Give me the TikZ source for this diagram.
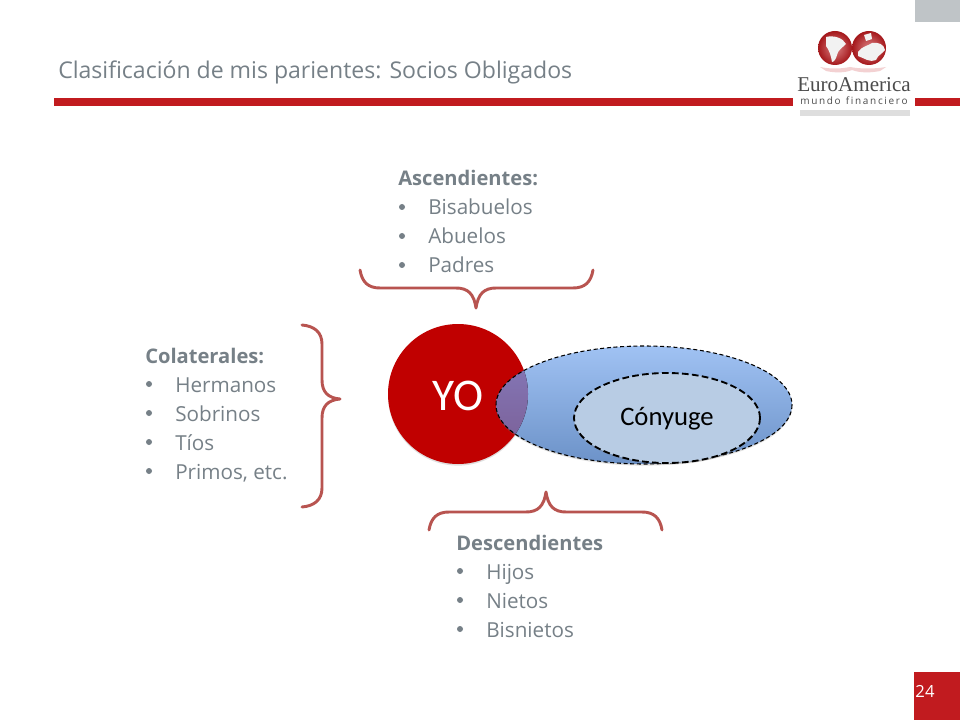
\documentclass[tikz,border=0pt]{standalone}
\usepackage{fontspec}
\setmainfont{Open Sans}
\newfontfamily\calfont{Carlito}
\newfontfamily\logofont{Liberation Serif}
\usetikzlibrary{shadows}
\definecolor{barred}{RGB}{193,27,31}
\definecolor{txtgray}{RGB}{118,128,135}
\definecolor{bracered}{RGB}{184,84,80}
\definecolor{yored}{RGB}{192,0,0}
\definecolor{cornergray}{RGB}{191,196,199}
\definecolor{elltop}{RGB}{160,194,243}
\definecolor{ellbot}{RGB}{108,146,200}
\definecolor{innerblue}{RGB}{184,204,228}
\definecolor{mixtop}{RGB}{135,128,195}
\definecolor{mixbot}{RGB}{122,92,146}
\tikzset{%
	item/.style = {anchor = base west, inner sep = 0pt, text = txtgray, font = \fontsize{15.5}{18}\selectfont},
	head/.style = {item, font = \fontsize{15.1}{18}\selectfont\bfseries},
	dot/.style = {circle, fill = txtgray, inner sep = 0pt, minimum size = 4.5pt},
	bracket/.style = {draw = bracered, line width = 2.2pt, line cap = round, line join = round, fill = none},
	band/.style = {fill = barred, draw = none},
	soft/.style = {drop shadow = {opacity = 0.25, shadow xshift = 0pt, shadow yshift = -1.2pt}}
}
\begin{document}
\begin{tikzpicture}[x=0.75pt,y=-0.75pt]
			\useasboundingbox (0,0) rectangle (960,720);
			% top band and corners
			\fill [white] (0,0) rectangle (960,720);
			\fill [band] (54,98) rectangle (793,106);
			\fill [band] (915,98) rectangle (960,106);
			\fill [cornergray] (915,0) rectangle (960,22);
			\fill [black!13] (800,110) rectangle (910,116);
			\fill [band] (914,672) rectangle (960,720);
			\node [inner sep = 0pt, text = white, font = \fontsize{12.5}{15}\selectfont] (pagenum) at (925,691) {24};
			\node [item, font = \fontsize{17.3}{20}\selectfont] (title) at (58,78.5) {Clasificación de mis parientes: Socios Obligados};
			% logo
			\shade [inner color = barred!55!white, outer color = barred!85!black] (835,48) circle (17);
			\shade [inner color = barred!55!white, outer color = barred!85!black] (869,48) circle (17);
			\fill [white!90!gray] (826,37) .. controls (834,35) and (843,38) .. (846,44) .. controls (842,48) and (838,50) .. (837,55) .. controls (836,59) and (834,62) .. (832,62) .. controls (831,55) and (829,50) .. (826,46) -- cycle;
			\fill [white!90!gray] (858,52) .. controls (862,46) and (868,46) .. (872,43) .. controls (878,42) and (884,44) .. (885,50) .. controls (882,54) and (878,55) .. (876,60) .. controls (870,63) and (864,58) .. (858,56) -- cycle;
			\fill [white!90!gray] (864,35) -- (871,33) -- (872,39) -- (866,41) -- cycle;
			\fill [barred!20] (820,67) .. controls (830,69) and (840,69) .. (850,67) .. controls (860,69) and (875,69) .. (886,67) -- (880,71) .. controls (870,73) and (860,73) .. (852,70) .. controls (845,73) and (835,73) .. (826,71) -- cycle;
			\node [inner sep = 0pt, text = black!70, font = \logofont\fontsize{15.8}{18}\selectfont] (logoname) at (854,85) {EuroAmerica};
			\node [inner sep = 0pt, text = black!70, font = \fontsize{7.5}{9}\selectfont] (logosub) at (854,101) {m\,u\,n\,d\,o\ \ f\,i\,n\,a\,n\,c\,i\,e\,r\,o};
			% ascendientes
			\node [head] (asc) at (398,186) {Ascendientes:};
			\node [dot] (asc1) at (402,207) {};
			\node [dot] (asc2) at (402,236) {};
			\node [dot] (asc3) at (402,265) {};
			\node [item] (bisabuelos) at (428,215) {Bisabuelos};
			\node [item] (abuelos) at (428,244) {Abuelos};
			\node [item] (padres) at (428,273) {Padres};
			% colaterales
			\node [head] (col) at (145,363) {Colaterales:};
			\node [dot] (col1) at (149,384) {};
			\node [dot] (col2) at (149,413) {};
			\node [dot] (col3) at (149,442) {};
			\node [dot] (col4) at (149,471) {};
			\node [item] (hermanos) at (175,392) {Hermanos};
			\node [item] (sobrinos) at (175,421) {Sobrinos};
			\node [item] (tios) at (175,450) {Tíos};
			\node [item] (primos) at (175,479) {Primos, etc.};
			% descendientes
			\node [head] (des) at (456,550) {Descendientes};
			\node [dot] (des1) at (460,571) {};
			\node [dot] (des2) at (460,600) {};
			\node [dot] (des3) at (460,629) {};
			\node [item] (hijos) at (486,579) {Hijos};
			\node [item] (nietos) at (486,608) {Nietos};
			\node [item] (bisnietos) at (486,637) {Bisnietos};
			% llaves
			\draw [bracket] (360,270) .. controls (362,282) and (368,288) .. (380,288) -- (456,288) .. controls (468,288) and (474,294) .. (476,308) .. controls (478,294) and (484,288) .. (496,288) -- (573,288) .. controls (585,288) and (591,282) .. (593,270);
			\draw [bracket] (302,325) .. controls (314,326) and (322,332) .. (322,344) -- (322,380) .. controls (322,392) and (328,398) .. (340,399) .. controls (328,400) and (322,406) .. (322,418) -- (322,488) .. controls (322,500) and (314,506) .. (302,507);
			\draw [bracket] (429,530) .. controls (431,518) and (437,512) .. (449,512) -- (526,512) .. controls (538,512) and (544,506) .. (546,492) .. controls (548,506) and (554,512) .. (566,512) -- (642,512) .. controls (654,512) and (660,518) .. (662,530);
			% yo y conyuge
			\node [circle, fill = yored, draw = none, minimum size = 105pt, inner sep = 0pt, soft] (yo) at (458,394) {};
			\path [top color = elltop, bottom color = ellbot, draw = none, soft] (644,405) ellipse (148 and 59);
			\begin{scope}
				\clip (644,405) ellipse (148 and 59);
				\fill [top color = mixtop, bottom color = mixbot] (458,394) circle (70);
			\end{scope}
			\node [inner sep = 0pt, text = white, font = \calfont\fontsize{34}{40}\selectfont] (yolabel) at (458,396) {YO};
			\draw [black, densely dashed, line width = 0.8pt] (644,405) ellipse (148 and 59);
			\path [fill = innerblue, draw = black, dash pattern = on 5pt off 2.5pt, line width = 1.4pt, soft] (667,418) ellipse (93 and 45);
			\node [inner sep = 0pt, text = black, font = \calfont\fontsize{20}{24}\selectfont] (conyuge) at (667,419) {Cónyuge};
			\end{tikzpicture}
\end{document}
